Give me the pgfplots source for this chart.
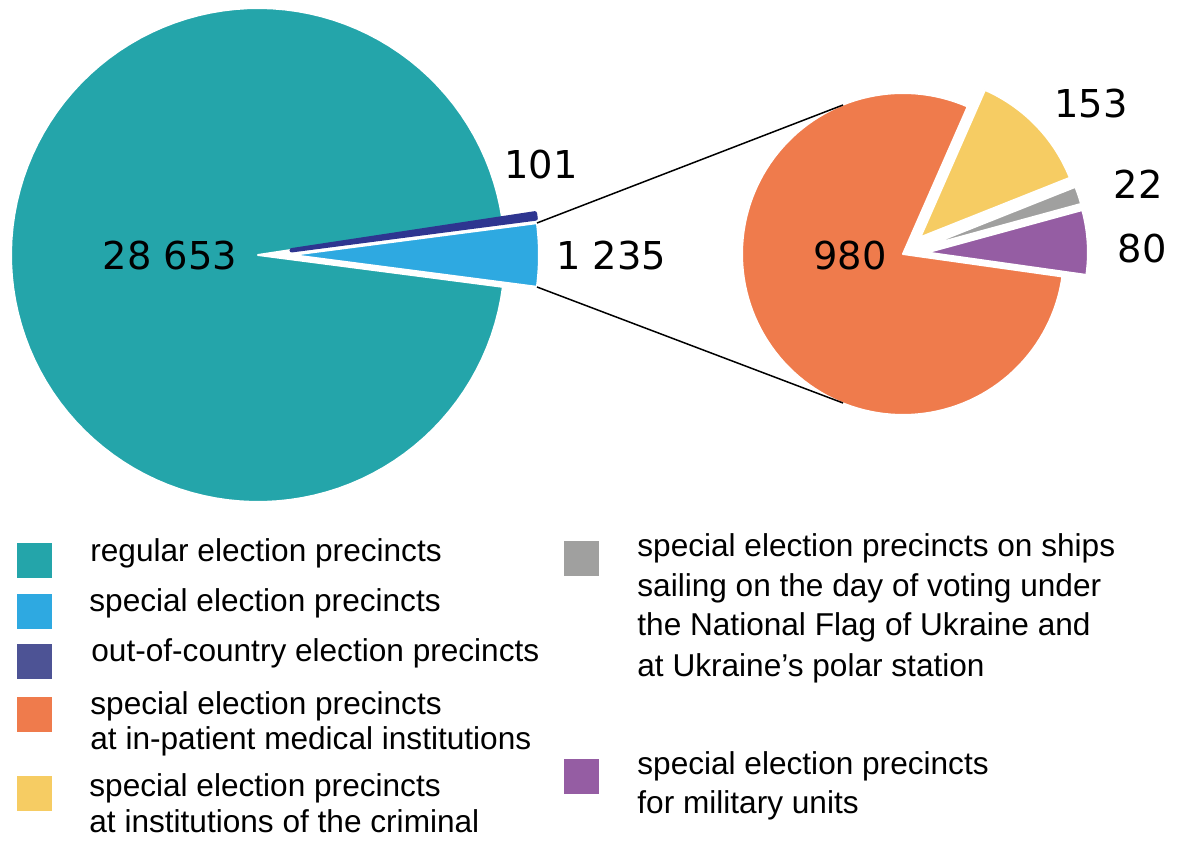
\documentclass[border=0pt]{standalone}
\usepackage{fontspec}
\setmainfont{Liberation Sans}
\newfontfamily\numfont{DejaVu Sans}
\usepackage{pgfplots}
\pgfplotsset{compat=1.18}

\definecolor{cReg}{HTML}{24A5AA}
\definecolor{cSpec}{HTML}{2EA9E1}
\definecolor{cAbr}{HTML}{2E3590}
\definecolor{cAbrLeg}{HTML}{4D5395}
\definecolor{cMed}{HTML}{EF7B4C}
\definecolor{cPen}{HTML}{F6CC63}
\definecolor{cShip}{HTML}{A0A09F}
\definecolor{cMil}{HTML}{955DA3}

% values
\def\vReg{28653}\def\vSpec{1235}\def\vAbr{101}
\def\vMed{980}\def\vPen{153}\def\vShip{22}\def\vMil{80}

% first pie: angles (degrees), centre (258,586), r=247
\edef\totA{\fpeval{\vReg+\vSpec+\vAbr}}
\edef\sA{\fpeval{-180*\vSpec/\totA}}
\edef\sB{\fpeval{180*\vSpec/\totA}}
\edef\nB{\fpeval{\sB+360*\vAbr/\totA}}
\edef\rB{\fpeval{\sA+360}}
\edef\nMid{\fpeval{(\sB+\nB)/2}}
\edef\nX{\fpeval{258+34*cosd(\nMid)}}
\edef\nY{\fpeval{586+34*sind(\nMid)}}

% second pie: centre (903,587), r=161
\edef\totB{\fpeval{\vMed+\vPen+\vShip+\vMil}}
\def\oA{66.3}
\edef\oB{\fpeval{\oA+360*\vMed/\totB}}
\edef\mB{\fpeval{\oB+360*\vMil/\totB}}
\edef\gB{\fpeval{\mB+360*\vShip/\totB}}
\edef\yB{\fpeval{\oA+360}}
\edef\mX{\fpeval{903+24*cosd((\oB+\mB)/2)}}
\edef\mY{\fpeval{587+24*sind((\oB+\mB)/2)}}
\edef\gX{\fpeval{903+24*cosd((\mB+\gB)/2)}}
\edef\gY{\fpeval{587+24*sind((\mB+\gB)/2)}}
\edef\yX{\fpeval{903+24*cosd((\gB+\yB)/2)}}
\edef\yY{\fpeval{587+24*sind((\gB+\yB)/2)}}

% slice: [border width] colour, border, cx, cy, r, start, end
\newcommand\slice[8][1pt]{%
  \addplot[fill=#2, draw=#3, line width=#1, line join=round, domain=#7:#8, samples=120]
    ({#4+#6*cos(x)}, {#5+#6*sin(x)}) -- (axis cs:#4,#5) -- cycle;}

\newcommand\leg[3]{\node[anchor=base west, inner sep=0pt, font=\fontsize{15.8}{19}\selectfont] at (axis cs:#1,#2) {#3};}
\newcommand\num[3]{\node[anchor=center, inner sep=0pt, font=\numfont\fontsize{19.2}{22}\selectfont] at (axis cs:#1,#2) {#3};}

\begin{document}
\begin{tikzpicture}
\begin{axis}[x=0.5pt, y=0.5pt, xmin=0, xmax=1179, ymin=0, ymax=841,
  hide axis, clip=false]
  \addplot[draw=none] coordinates {(0,0) (1179,841)};

  % first pie
  \slice{cReg}{white}{258}{586}{247}{\nB}{\rB}
  \slice[2.2pt]{cAbr}{cAbr}{\nX}{\nY}{246}{\sB}{\nB}
  \slice{cSpec}{white}{292}{586}{247}{\sA}{\sB}

  % second pie
  \slice{cMed}{white}{903}{587}{161}{\oA}{\oB}
  \slice{cMil}{white}{\mX}{\mY}{161}{\oB}{\mB}
  \slice{cShip}{white}{\gX}{\gY}{161}{\mB}{\gB}
  \slice{cPen}{white}{\yX}{\yY}{161}{\gB}{\yB}

  % connectors
  \addplot[black, line width=0.75pt] coordinates {(537,618) (843,736)};
  \addplot[black, line width=0.75pt] coordinates {(537,554) (843,438)};

  % value labels
  \num{170}{585}{28 653}
  \num{541}{676}{101}
  \num{611}{585}{1 235}
  \num{850}{585}{980}
  \num{1091}{737}{153}
  \num{1138}{657}{22}
  \num{1142}{592}{80}

  % legend markers
  \addplot[only marks, mark=square*, mark size=8.5pt, cReg] coordinates {(34.5,280.5)};
  \addplot[only marks, mark=square*, mark size=8.5pt, cSpec] coordinates {(34.5,229.5)};
  \addplot[only marks, mark=square*, mark size=8.5pt, cAbrLeg] coordinates {(34.5,179.5)};
  \addplot[only marks, mark=square*, mark size=8.5pt, cMed] coordinates {(34.5,127)};
  \addplot[only marks, mark=square*, mark size=8.5pt, cPen] coordinates {(34.5,48)};
  \addplot[only marks, mark=square*, mark size=8.5pt, cShip] coordinates {(581.5,282.5)};
  \addplot[only marks, mark=square*, mark size=8.5pt, cMil] coordinates {(581.5,64.5)};

  % legend text
  \leg{90}{279}{regular election precincts}
  \leg{89}{229}{special election precincts}
  \leg{91}{179}{out-of-country election precincts}
  \leg{90}{126}{special election precincts}
  \leg{90}{91}{at in-patient medical institutions}
  \leg{89}{44}{special election precincts}
  \leg{89}{8}{at institutions of the criminal}
  \leg{637}{284}{special election precincts on ships}
  \leg{637}{244}{sailing on the day of voting under}
  \leg{637}{205}{the National Flag of Ukraine and}
  \leg{637}{164}{at Ukraine’s polar station}
  \leg{637}{66}{special election precincts}
  \leg{637}{27}{for military units}
\end{axis}
\end{tikzpicture}
\end{document}
